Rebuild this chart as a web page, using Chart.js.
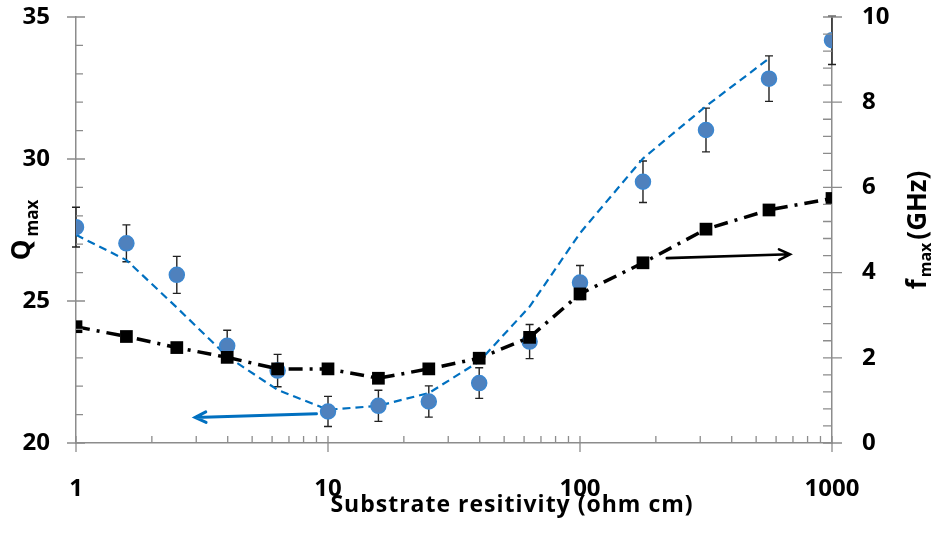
<!DOCTYPE html>
<html>
<head>
<meta charset="utf-8">
<title>Qmax and fmax vs substrate resistivity</title>
<script src="https://cdn.jsdelivr.net/npm/chart.js@4.4.1/dist/chart.umd.min.js"></script>
<style>
  html, body { margin: 0; padding: 0; background: #fff; }
  #wrap { width: 938px; height: 541px; position: relative; }
</style>
</head>
<body>
<div id="wrap"><canvas id="chart"></canvas></div>
<script>
(function () {
  "use strict";

  // --- data
  var resistivity = [1, 1.585, 2.512, 3.981, 6.31, 10, 15.85, 25.12, 39.81, 63.1, 100, 177.8, 316.2, 562.3, 1000];
  var qMax = [27.6, 27.03, 25.92, 23.42, 22.55, 21.11, 21.31, 21.46, 22.11, 23.57, 25.65, 29.2, 31.02, 32.83, 34.18];
  var qErr = [0.7, 0.65, 0.65, 0.55, 0.57, 0.53, 0.55, 0.55, 0.54, 0.6, 0.6, 0.73, 0.77, 0.8, 0.85];
  var qFit = [27.33, 26.44, 24.77, 23.05, 21.87, 21.17, 21.31, 21.76, 22.87, 24.8, 27.39, 30.02, 31.86, 33.54, null];
  var fMax = [2.73, 2.5, 2.24, 2.01, 1.74, 1.74, 1.52, 1.74, 1.99, 2.48, 3.5, 4.23, 5.02, 5.47, 5.74];

  var xTicks = [1, 10, 100, 1000];
  var qTicks = [20, 25, 30, 35];
  var fTicks = [0, 2, 4, 6, 8, 10];

  var FONT = "'Open Sans', Lato, 'DejaVu Sans', sans-serif";
  var axisColor = "#8c8c8c";
  var blue = "#0070C0";

  function pts(ys) {
    return resistivity.map(function (x, i) { return { x: x, y: ys[i] }; });
  }

  // tick padding is added to the axis bleed in v4; keep the plot box fixed
  function noBleed(s) {
    s.paddingTop = 0; s.paddingBottom = 0;
    s.paddingLeft = 0; s.paddingRight = 0;
  }

  // --- minor/major tick marks like the Excel original
  var tickMarks = {
    id: "tickMarks",
    afterDraw: function (chart) {
      var ctx = chart.ctx, a = chart.chartArea;
      var sx = chart.scales.x, sq = chart.scales.yQ, sf = chart.scales.yF;
      ctx.save();
      ctx.strokeStyle = axisColor;
      ctx.lineWidth = 1.3;
      ctx.beginPath();
      for (var d = 1; d < 1000; d *= 10) {
        for (var m = 1; m <= 10; m++) {
          var px = sx.getPixelForValue(d * m);
          ctx.moveTo(px, a.bottom - 7);
          ctx.lineTo(px, (m === 1 || m === 10) ? a.bottom + 9 : a.bottom);
        }
      }
      for (var q = 20; q <= 35; q++) {
        var py = sq.getPixelForValue(q);
        if (q % 5 === 0) { ctx.moveTo(a.left - 9, py); ctx.lineTo(a.left + 9, py); }
        else { ctx.moveTo(a.left, py); ctx.lineTo(a.left + 7, py); }
      }
      for (var k = 0; k <= 25; k++) {
        var pf = sf.getPixelForValue(k * 0.4);
        ctx.moveTo(a.right - 9, pf);
        ctx.lineTo(k % 5 === 0 ? a.right + 10 : a.right, pf);
      }
      ctx.stroke();
      ctx.restore();
    }
  };

  // --- error bars on the Q points, drawn under the markers
  var errorBars = {
    id: "errorBars",
    beforeDatasetsDraw: function (chart) {
      var ctx = chart.ctx, sx = chart.scales.x, sq = chart.scales.yQ;
      ctx.save();
      ctx.strokeStyle = "#222";
      ctx.lineWidth = 1.4;
      ctx.beginPath();
      resistivity.forEach(function (x, i) {
        var px = sx.getPixelForValue(x);
        var top = sq.getPixelForValue(qMax[i] + qErr[i]);
        var bot = sq.getPixelForValue(qMax[i] - qErr[i]);
        ctx.moveTo(px, top); ctx.lineTo(px, bot);
        ctx.moveTo(px - 4, top); ctx.lineTo(px + 4, top);
        ctx.moveTo(px - 4, bot); ctx.lineTo(px + 4, bot);
      });
      ctx.stroke();
      ctx.restore();
    }
  };

  // --- arrows pointing at each curve's axis, and the axis titles
  var annotations = {
    id: "annotations",
    afterDatasetsDraw: function (chart) {
      var ctx = chart.ctx, sx = chart.scales.x;
      function arrow(scale, from, to, color, width) {
        var x1 = sx.getPixelForValue(from[0]), y1 = scale.getPixelForValue(from[1]);
        var x2 = sx.getPixelForValue(to[0]), y2 = scale.getPixelForValue(to[1]);
        var ang = Math.atan2(y2 - y1, x2 - x1), h = 12;
        ctx.save();
        ctx.strokeStyle = color;
        ctx.lineWidth = width;
        ctx.lineCap = "round";
        ctx.beginPath();
        ctx.moveTo(x1, y1); ctx.lineTo(x2, y2);
        ctx.moveTo(x2 - h * Math.cos(ang - 0.45), y2 - h * Math.sin(ang - 0.45));
        ctx.lineTo(x2, y2);
        ctx.lineTo(x2 - h * Math.cos(ang + 0.45), y2 - h * Math.sin(ang + 0.45));
        ctx.stroke();
        ctx.restore();
      }
      arrow(chart.scales.yQ, [9.0, 21.03], [2.97, 20.9], blue, 3);
      arrow(chart.scales.yF, [221, 4.34], [681, 4.43], "#000", 2.6);
    },
    afterDraw: function (chart) {
      var ctx = chart.ctx;
      ctx.save();
      ctx.fillStyle = "#000";
      ctx.textBaseline = "alphabetic";

      // rotated title with a subscript, centred on cy
      function vTitle(cx, cy, parts) {
        ctx.save();
        ctx.translate(cx, cy);
        ctx.rotate(-Math.PI / 2);
        var total = 0;
        parts.forEach(function (p) {
          ctx.font = "bold " + p.size + "px " + FONT;
          p.w = ctx.measureText(p.text).width;
          total += p.w + (p.gap || 0);
        });
        var x = -total / 2;
        parts.forEach(function (p) {
          ctx.font = "bold " + p.size + "px " + FONT;
          ctx.fillText(p.text, x, p.dy || 0);
          x += p.w + (p.gap || 0);
        });
        ctx.restore();
      }

      vTitle(30, 230, [
        { text: "Q", size: 26, gap: 3 },
        { text: "max", size: 17, dy: 8 }
      ]);
      vTitle(926, 230, [
        { text: "f", size: 26, gap: 2 },
        { text: "max", size: 16, dy: 5, gap: 3 },
        { text: "(GHz)", size: 26 }
      ]);

      ctx.font = "bold 23px " + FONT;
      ctx.letterSpacing = "1px";
      ctx.textAlign = "center";
      ctx.fillText("Substrate resitivity (ohm cm)", 512, 512);
      ctx.restore();
    }
  };

  var tickFont = { family: FONT, size: 24, weight: "bold" };

  new Chart(document.getElementById("chart"), {
    type: "line",
    data: {
      datasets: [
        {
          label: "fmax",
          data: pts(fMax),
          yAxisID: "yF",
          borderColor: "#000",
          borderWidth: 3.5,
          borderDash: [14, 7, 3, 7],
          pointStyle: "rect",
          pointRadius: 9,
          pointBackgroundColor: "#000",
          pointBorderColor: "#000",
          pointBorderWidth: 0,
          tension: 0,
          order: 1
        },
        {
          label: "Qmax",
          data: pts(qMax),
          yAxisID: "yQ",
          showLine: false,
          pointStyle: "circle",
          pointRadius: 7.5,
          pointBackgroundColor: "#4F81BD",
          pointBorderColor: "#3C87D0",
          pointBorderWidth: 1.5,
          order: 2
        },
        {
          label: "Qmax fit",
          data: pts(qFit),
          yAxisID: "yQ",
          borderColor: blue,
          borderWidth: 2.2,
          borderDash: [8, 5],
          pointRadius: 0,
          spanGaps: false,
          tension: 0,
          order: 3
        }
      ]
    },
    options: {
      responsive: true,
      maintainAspectRatio: false,
      animation: false,
      layout: { padding: { top: 17, left: 0, right: 0, bottom: 0 } },
      plugins: {
        legend: { display: false },
        tooltip: { enabled: false }
      },
      scales: {
        x: {
          type: "logarithmic",
          min: 1,
          max: 1000,
          afterBuildTicks: function (s) { s.ticks = xTicks.map(function (v) { return { value: v }; }); },
          afterFit: function (s) { s.height = 98; noBleed(s); },
          grid: { display: false, drawTicks: false },
          border: { display: true, color: axisColor, width: 1.5 },
          ticks: {
            autoSkip: false,
            maxRotation: 0,
            padding: 32,
            color: "#000",
            font: tickFont,
            callback: function (v) { return String(v); }
          }
        },
        yQ: {
          type: "linear",
          position: "left",
          min: 20,
          max: 35,
          afterBuildTicks: function (s) { s.ticks = qTicks.map(function (v) { return { value: v }; }); },
          afterFit: function (s) { s.width = 76; noBleed(s); },
          grid: { display: false, drawTicks: false },
          border: { display: true, color: axisColor, width: 1.5 },
          ticks: { padding: 26, color: "#000", font: tickFont }
        },
        yF: {
          type: "linear",
          position: "right",
          min: 0,
          max: 10,
          afterBuildTicks: function (s) { s.ticks = fTicks.map(function (v) { return { value: v }; }); },
          afterFit: function (s) { s.width = 106; noBleed(s); },
          grid: { display: false, drawTicks: false },
          border: { display: true, color: axisColor, width: 1.5 },
          ticks: { padding: 30, color: "#000", font: tickFont }
        }
      }
    },
    plugins: [errorBars, annotations, tickMarks]
  });
})();
</script>
</body>
</html>
